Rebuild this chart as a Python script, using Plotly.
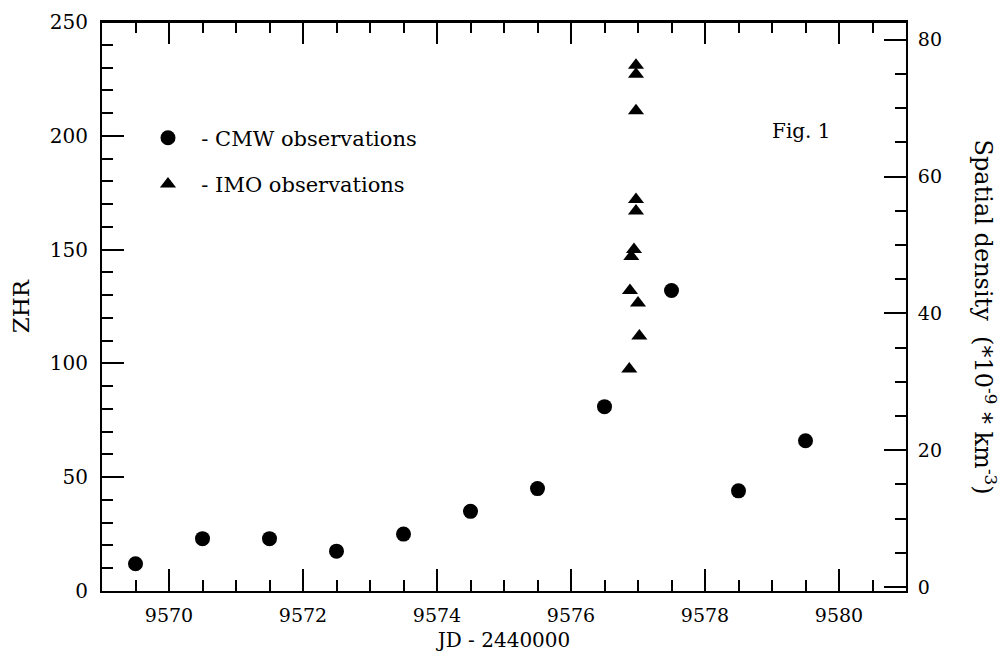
import plotly.graph_objects as go

# CMW observations (JD - 2440000, ZHR)
cmw_jd = [9569.5, 9570.5, 9571.5, 9572.5, 9573.5, 9574.5, 9575.5, 9576.5, 9577.5, 9578.5, 9579.5]
cmw_zhr = [12, 23, 23, 17.5, 25, 35, 45, 81, 132, 44, 66]

# IMO observations (JD - 2440000, ZHR)
imo_jd = [9576.97, 9576.97, 9576.97, 9576.97, 9576.97, 9576.94, 9576.90, 9576.88, 9577.00, 9577.02, 9576.87]
imo_zhr = [231, 227, 211, 172, 167, 150, 147, 132, 126.5, 112, 97.5]

x_ticks = [9570, 9572, 9574, 9576, 9578, 9580]
zhr_ticks = [0, 50, 100, 150, 200, 250]
dens_ticks = [0, 20, 40, 60, 80]

FONT = "DejaVu Serif"
NB = "\u00a0\u00a0"

fig = go.Figure()
fig.add_trace(go.Scatter(
    x=cmw_jd, y=cmw_zhr, mode="markers", name=NB + "- CMW observations",
    legendgroup="cmw",
    marker=dict(symbol="circle", size=15, color="black"),
))
fig.add_trace(go.Scatter(
    x=imo_jd, y=imo_zhr, mode="markers", name=NB + "- IMO observations",
    legendgroup="imo",
    marker=dict(symbol="triangle-up", size=14, color="black"),
))
# invisible trace to activate the right axis
fig.add_trace(go.Scatter(x=[None], y=[None], yaxis="y2", showlegend=False, hoverinfo="skip"))

axis_common = dict(
    showline=True, linewidth=2, linecolor="black",
    ticks="inside", ticklen=22, tickwidth=2, tickcolor="black",
    showgrid=False, zeroline=False, automargin=False,
    ticklabeloverflow="allow",
)

fig.update_layout(
    width=1003, height=659,
    margin=dict(l=102, r=97, t=22, b=68, autoexpand=False),
    paper_bgcolor="white", plot_bgcolor="white",
    font=dict(family=FONT, color="black", size=20),
    xaxis=dict(
        range=[9569, 9581], tickvals=x_ticks, mirror="ticks",
        minor=dict(dtick=0.5, tick0=9569, ticks="inside", ticklen=11, tickwidth=2, tickcolor="black"),
        tickfont=dict(family=FONT, size=19), ticklabelstandoff=6,
        title=dict(text="JD - 2440000", font=dict(family=FONT, size=20), standoff=8),
        **axis_common,
    ),
    yaxis=dict(
        range=[0, 250], tickvals=zhr_ticks,
        minor=dict(dtick=10, tick0=0, ticks="inside", ticklen=11, tickwidth=2, tickcolor="black"),
        tickfont=dict(family=FONT, size=20), ticklabelstandoff=8,
        title=dict(text="ZHR", font=dict(family=FONT, size=23), standoff=14),
        **axis_common,
    ),
    yaxis2=dict(
        overlaying="y", side="right", anchor="x",
        range=[-0.6, 82.6], tickvals=dens_ticks,
        minor=dict(dtick=5, tick0=0, ticks="inside", ticklen=11, tickwidth=2, tickcolor="black"),
        tickfont=dict(family=FONT, size=19), ticklabelstandoff=6,
        **axis_common,
    ),
    legend=dict(
        x=0.0572, y=0.832, xanchor="left", yanchor="top",
        bgcolor="rgba(0,0,0,0)", font=dict(family=FONT, size=21),
        traceorder="grouped", tracegroupgap=16,
    ),
    showlegend=True,
    shapes=[
        dict(type="line", xref="paper", yref="paper", x0=0, x1=1, y0=1, y1=1,
             line=dict(color="black", width=2), layer="above"),
    ],
    annotations=[
        dict(text="Fig. 1", x=0.8706, y=0.808, xref="paper", yref="paper",
             xanchor="center", yanchor="middle",
             showarrow=False, font=dict(family=FONT, size=20)),
        dict(text="Spatial density\u00a0 (*10<sup>-9</sup> * km<sup>-3</sup>)",
             x=1.098, y=0.481, xref="paper", yref="paper", textangle=90,
             xanchor="center", yanchor="middle",
             showarrow=False, font=dict(family=FONT, size=24)),
    ],
)

fig.write_html("out.html", config={"displayModeBar": False},
               post_script="document.body.style.margin='0';")
